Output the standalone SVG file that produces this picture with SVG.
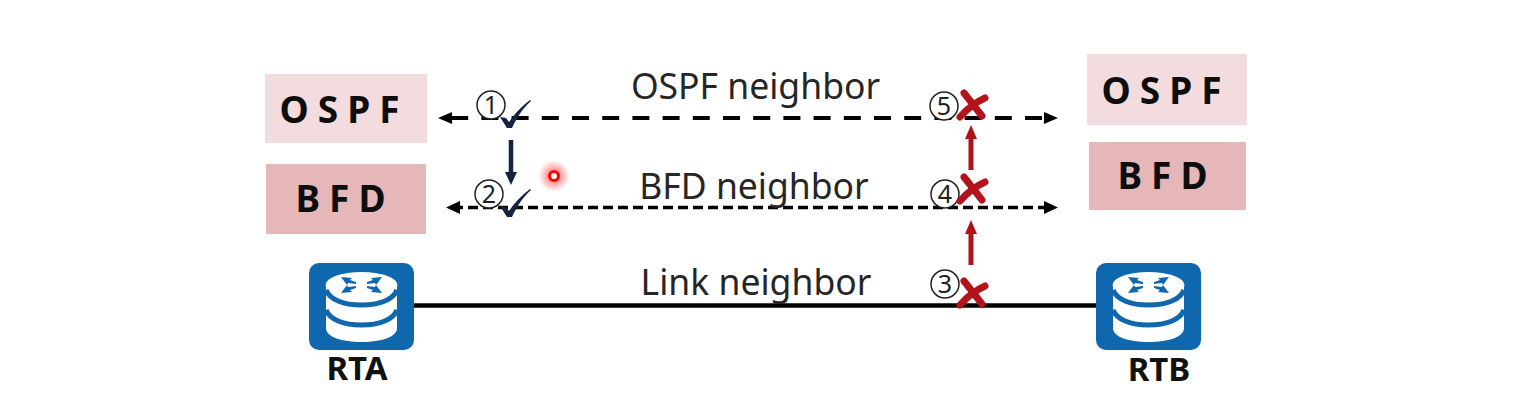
<svg xmlns="http://www.w3.org/2000/svg" width="1533" height="420" viewBox="0 0 1533 420">
<style>
.lbl{font-family:"Noto Sans","Open Sans",sans-serif;font-size:35.500px;fill:#262626;text-anchor:middle}
.box{font-family:"Noto Sans","Open Sans",sans-serif;font-size:37px;font-weight:700;fill:#0d0d0d;text-anchor:middle;letter-spacing:9px}
.name{font-family:"Noto Sans","Open Sans",sans-serif;font-size:33px;font-weight:700;fill:#111;text-anchor:middle}
.num{font-family:"Noto Sans","DejaVu Sans",sans-serif;font-size:25px;fill:#222;text-anchor:middle}
.ring{fill:#fff;stroke:#222;stroke-width:1.500}
.dash1{stroke:#000;stroke-width:4;fill:none;stroke-dasharray:17 13.200}
.dash2{stroke:#000;stroke-width:3.500;fill:none;stroke-dasharray:10 5}
.red{stroke:#b0121b;stroke-width:5;fill:none}
.x{stroke:#b3141c;stroke-width:7;stroke-linecap:round;fill:none}
.check{fill:#14233f}
</style>
<defs>
<g id="router">
<rect x="0" y="0" width="105" height="87" rx="10" fill="#0f67ae"/>
<path d="M17 22v43c0 9 16 14 35.500 14s35.500-5 35.500-14V22z" fill="#fff"/>
<ellipse cx="52.500" cy="22" rx="36" ry="13" fill="#fff"/>
<path d="M17 27c4 10 18 15 35.500 15S84 37 88 27M17 47c4 10 18 15 35.500 15S84 57 88 47" stroke="#0f67ae" stroke-width="5" fill="none"/>
<path d="M32 14l11 1-2 2 6 2v2l-8-1-1 2zM73 14l-11 1 2 2-6 2v2l8-1 1 2zM32 30l11-1-2-2 6-2v-2l-8 1-1-2zM73 30l-11-1 2-2-6-2v-2l8 1 1-2z" fill="#0f67ae"/>
</g>
<path id="cross" d="M-8-12L10 11M13-7C4-3-5 4-12 12" class="x"/>
<path id="tick" d="M-8-1l6 1 3 4c5-8 12-15 21-22l1 1c-8 7-14 16-19 27l-5 0z" class="check"/>
<radialGradient id="halo"><stop offset="0.300" stop-color="#f00" stop-opacity="0.450"/><stop offset="1" stop-color="#f00" stop-opacity="0"/></radialGradient>
</defs>
<rect width="1533" height="420" fill="#fff"/>

<g id="connectors">
<path class="dash1" d="M1042 118H450"/>
<path d="M1044 112l14 6-14 6zM438 118l14-6v12z" fill="#000"/>
<path class="dash2" d="M1048 207.500H455"/>
<path d="M1044 201l14 6.500-14 6.500zM446 207.500l14-6.500v13z" fill="#000"/>
<path d="M414 305.500H1098" stroke="#000" stroke-width="4.500" fill="none"/>
<path d="M511 140V174" stroke="#14233f" stroke-width="4.500" fill="none"/>
<path d="M505 172h12l-6 13z" fill="#14233f"/>
<path class="red" d="M971 170V137"/>
<path d="M965 139h12l-6-14z" fill="#b0121b"/>
<path class="red" d="M971 265V232"/>
<path d="M965 234h12l-6-14z" fill="#b0121b"/>
</g>

<g id="ospf-left"><rect x="265" y="74" width="162" height="69" fill="#f3dcdd"/><text class="box" x="344" y="123">OSPF</text></g>
<g id="bfd-left"><rect x="266" y="164" width="160" height="70" fill="#e5b7b8"/><text class="box" x="345" y="212">BFD</text></g>
<g id="ospf-right"><rect x="1087" y="54" width="160" height="71" fill="#f3dcdd"/><text class="box" x="1166" y="104">OSPF</text></g>
<g id="bfd-right"><rect x="1089" y="142" width="157" height="68" fill="#e5b7b8"/><text class="box" x="1167" y="189">BFD</text></g>

<g id="rta"><use href="#router" x="309" y="263"/><text class="name" x="357" y="380">RTA</text></g>
<g id="rtb"><use href="#router" x="1096" y="263"/><text class="name" x="1159" y="381">RTB</text></g>

<g id="label-ospf"><text class="lbl" x="755.500" y="99">OSPF neighbor</text></g>
<g id="label-bfd"><text class="lbl" x="754" y="199">BFD neighbor</text></g>
<g id="label-link"><text class="lbl" x="756" y="295">Link neighbor</text></g>

<g id="step1"><circle class="ring" cx="491" cy="105" r="14"/><text class="num" x="491" y="114">1</text><use href="#tick" x="508" y="118"/></g>
<g id="step2"><circle class="ring" cx="489" cy="194" r="14"/><text class="num" x="489" y="203">2</text><use href="#tick" x="508" y="207"/></g>
<g id="step3"><circle class="ring" cx="945" cy="284" r="14"/><text class="num" x="945" y="293">3</text><use href="#cross" x="972" y="293"/></g>
<g id="step4"><circle class="ring" cx="945" cy="194" r="14"/><text class="num" x="945" y="203">4</text><use href="#cross" x="972" y="189"/></g>
<g id="step5"><circle class="ring" cx="944" cy="106" r="14"/><text class="num" x="944" y="115">5</text><use href="#cross" x="972" y="105"/></g>

<g id="pointer"><circle cx="554" cy="176" r="16" fill="url(#halo)"/><circle cx="554" cy="176" r="4.500" fill="#fff" stroke="#f00" stroke-width="3"/></g>
</svg>
